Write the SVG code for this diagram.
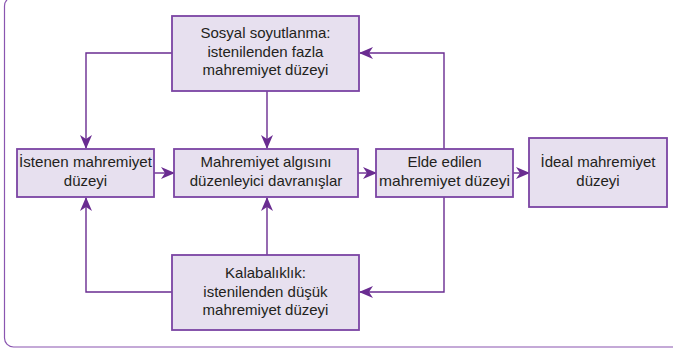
<svg xmlns="http://www.w3.org/2000/svg" width="673" height="353" viewBox="0 0 673 353">
<defs>
<marker id="ah" markerUnits="userSpaceOnUse" markerWidth="14" markerHeight="12" viewBox="0 0 14 12" refX="13" refY="6" orient="auto">
<path d="M0,0 L14,6 L0,12 L4,6 Z" fill="#6a2c91"/>
</marker>
<style>
.box{fill:#e7e0ef;stroke:#7b44a3;stroke-width:1.8}
.t{font-family:"Liberation Sans",Arial,sans-serif;font-size:15px;fill:#231f20;text-anchor:middle}
.c{fill:none;stroke:#6a2c91;stroke-width:1.4}
</style>
</defs>
<rect x="4.5" y="-3" width="720" height="350" rx="9" fill="none" stroke="#8a55b0" stroke-width="1.2"/>
<g id="connectors">
<path class="c" d="M172,53 H86 V148" marker-end="url(#ah)"/>
<path class="c" d="M267,91 V148" marker-end="url(#ah)"/>
<path class="c" d="M444,149 V53 H360" marker-end="url(#ah)"/>
<path class="c" d="M154,173 H174" marker-end="url(#ah)"/>
<path class="c" d="M358,173 H376" marker-end="url(#ah)"/>
<path class="c" d="M513,173 H529" marker-end="url(#ah)"/>
<path class="c" d="M444,197 V292 H360" marker-end="url(#ah)"/>
<path class="c" d="M172,292 H86 V198" marker-end="url(#ah)"/>
<path class="c" d="M267,255 V198" marker-end="url(#ah)"/>
</g>
<g id="sosyal">
<rect class="box" x="172" y="16" width="187" height="75"/>
<text class="t" x="265.5" y="38">Sosyal soyutlanma:</text>
<text class="t" x="265.5" y="57">istenilenden fazla</text>
<text class="t" x="265.5" y="75">mahremiyet düzeyi</text>
</g>
<g id="istenen">
<rect class="box" x="17" y="149" width="137" height="48"/>
<text class="t" x="85.5" y="167" textLength="133" lengthAdjust="spacingAndGlyphs">İstenen mahremiyet</text>
<text class="t" x="85.5" y="186">düzeyi</text>
</g>
<g id="davranis">
<rect class="box" x="174" y="149" width="184" height="48"/>
<text class="t" x="266" y="167">Mahremiyet algısını</text>
<text class="t" x="266" y="186">düzenleyici davranışlar</text>
</g>
<g id="elde">
<rect class="box" x="376" y="149" width="137" height="48"/>
<text class="t" x="444.5" y="167">Elde edilen</text>
<text class="t" x="444.5" y="186" textLength="131" lengthAdjust="spacingAndGlyphs">mahremiyet düzeyi</text>
</g>
<g id="ideal">
<rect class="box" x="529" y="138" width="138" height="69"/>
<text class="t" x="598" y="167">İdeal mahremiyet</text>
<text class="t" x="598" y="186">düzeyi</text>
</g>
<g id="kalabalik">
<rect class="box" x="172" y="255" width="187" height="75"/>
<text class="t" x="265.5" y="278">Kalabalıklık:</text>
<text class="t" x="265.5" y="297">istenilenden düşük</text>
<text class="t" x="265.5" y="315">mahremiyet düzeyi</text>
</g>
</svg>
